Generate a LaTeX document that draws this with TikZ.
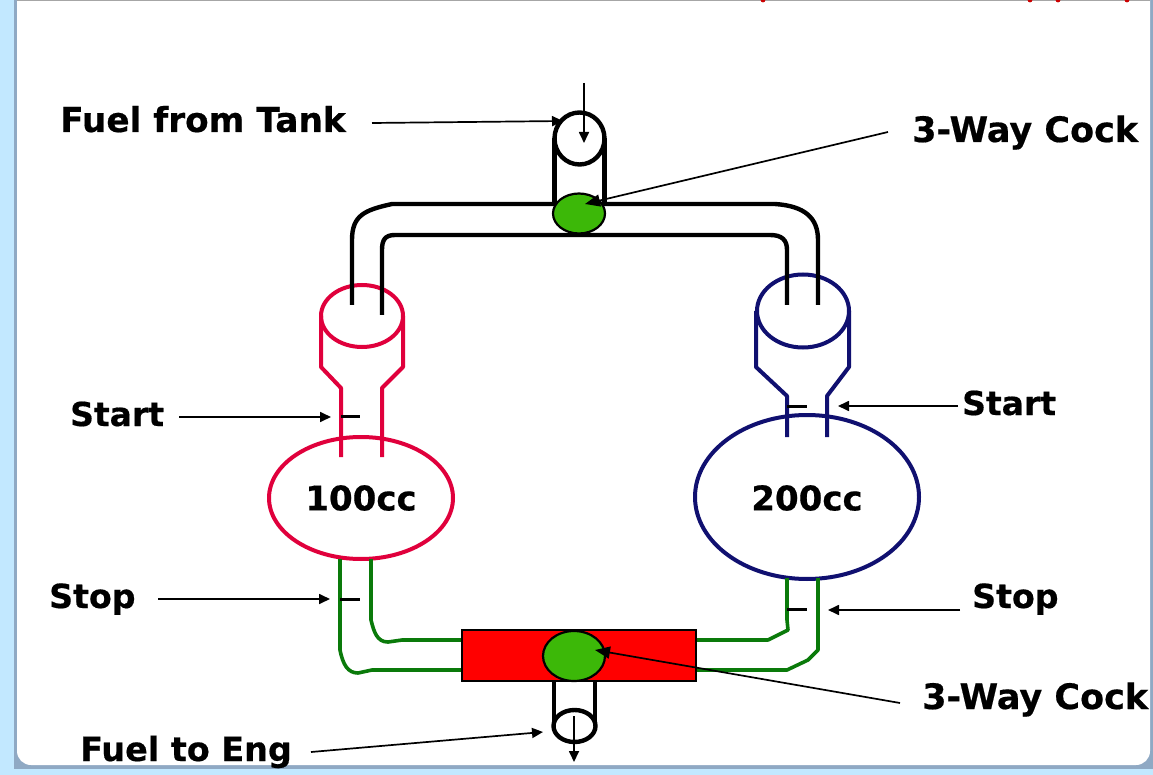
\documentclass[tikz,border=0pt]{standalone}
\usepackage{fontspec}
\setmainfont[BoldFeatures={FakeBold=0.5}]{DejaVu Sans}
\usetikzlibrary{shapes.geometric,arrows.meta}
\definecolor{panelblue}{HTML}{C2E8FF}
\definecolor{shadowblue}{HTML}{8FA9C4}
\definecolor{pipered}{HTML}{E0003C}
\definecolor{pipenavy}{HTML}{101070}
\definecolor{pipegreen}{HTML}{0A7A0A}
\definecolor{cockgreen}{HTML}{3CB808}
\tikzset{
  lbl/.style={anchor=base west,inner sep=0pt,font=\fontsize{#1}{36}\selectfont\bfseries},
  midlbl/.style={anchor=center,inner sep=0pt,font=\fontsize{34}{36}\selectfont\bfseries},
  vessel/.style={ellipse,draw,line width=4pt,inner sep=0pt,minimum width=#1},
  blackcap/.style={ellipse,draw=black,line width=4.4pt,inner sep=0pt},
  pipe/.style={line width=4.4pt,line join=round},
  lowpipe/.style={line width=3.6pt,line join=round,pipegreen},
  ticksign/.style={line width=3pt},
  lead/.style={line width=1.7pt,-{Triangle[length=11pt,width=10pt]}},
  leadbig/.style={line width=1.7pt,-{Triangle[length=15pt,width=12pt]}},
  cock/.style={ellipse,draw=black,line width=2.2pt,fill=cockgreen,inner sep=0pt},
  valvebox/.style={draw=black,line width=1.6pt,fill=red,inner sep=0pt}
}
\begin{document}
\begin{tikzpicture}[x=1pt,y=-1pt]
\useasboundingbox (0,0) rectangle (1153,775);
% slide background
\fill[panelblue] (0,0) rectangle (1153,775);
\fill[shadowblue] (14,0) rectangle (1153,769);
\fill[white,rounded corners=14pt] (17,-30) rectangle (1150,765);
\fill[gray!70] (17,0) rectangle (1150,1.3);
\foreach \px in {763,1030,1058,1127}{\fill[red!80!black] (\px,0) circle (2.4pt);}

% --- top black assembly ---
\node[blackcap,minimum width=50pt,minimum height=52pt] (topcap) at (579.5,138.5) {};
\coordinate (tl) at (554.5,138); \coordinate (tr) at (604.5,138);
\coordinate (tlb) at (554.5,205); \coordinate (trb) at (604.5,205);
\draw[pipe] (tl) -- (tlb); \draw[pipe] (tr) -- (trb);

% funnels
\node[vessel=82pt,draw=pipered,minimum height=62pt] (redcap) at (362,316) {};
\node[vessel=92pt,draw=pipenavy,minimum height=73pt] (bluecap) at (803,311) {};
\node[vessel=184pt,draw=pipered,minimum height=122pt] (v100) at (361,498) {};
\node[vessel=224pt,draw=pipenavy,minimum height=164pt] (v200) at (807,497) {};

\coordinate (rl0) at (321,316); \coordinate (rr0) at (403,316);
\coordinate (rl3) at (341,457); \coordinate (rr3) at (382,457);
\draw[pipe,line width=4pt,pipered] (rl0) -- (321,367) -- (341,388) -- (rl3);
\draw[pipe,line width=4pt,pipered] (rr0) -- (403,367) -- (382,388) -- (rr3);
\coordinate (bl0) at (756,311); \coordinate (br0) at (849,311);
\coordinate (bl3) at (787,437); \coordinate (br3) at (827,437);
\draw[pipe,line width=4pt,pipenavy] (bl0) -- (756,367) -- (787,396) -- (bl3);
\draw[pipe,line width=4pt,pipenavy] (br0) -- (849,367) -- (827,396) -- (br3);

% black manifold
\coordinate (mo1) at (352,305); \coordinate (mo2) at (818,305);
\coordinate (mi1) at (382,315); \coordinate (mi2) at (787,305);
\draw[pipe] (mo1) -- (352,240) .. controls (352,215) and (365,210) .. (392,204) -- (775,204) .. controls (805,206) and (818,218) .. (818,240) -- (mo2);
\draw[pipe] (mi1) -- (382,250) .. controls (382,240) and (385,235) .. (395,235) -- (770,235) .. controls (782,235) and (787,240) .. (787,250) -- (mi2);
\node[cock,minimum width=52pt,minimum height=40pt] (cocktop) at (579,213.5) {};

% green lower pipes
\coordinate (gl1) at (340,559); \coordinate (gl2) at (371,559);
\coordinate (gr1) at (787,578); \coordinate (gr2) at (818,578);
\coordinate (vw1) at (464,670); \coordinate (vw2) at (464,640);
\coordinate (ve1) at (694,640); \coordinate (ve2) at (694,670);
\draw[lowpipe] (gl1) -- (340,650) .. controls (343,665) and (348,673) .. (358,673) -- (372,670) -- (vw1);
\draw[lowpipe] (gl2) -- (371,620) .. controls (374,632) and (377,642) .. (388,642) -- (402,640) -- (vw2);
\draw[lowpipe] (gr1) -- (787,620) -- (788,630) -- (768,640) -- (ve1);
\draw[lowpipe] (gr2) -- (818,650) -- (808,660) -- (787,670) -- (ve2);
\node[valvebox,minimum width=234pt,minimum height=51pt] (valve) at (579,655.5) {};
\node[cock,minimum width=62pt,minimum height=50pt] (cockbot) at (574,656) {};

% bottom outlet
\coordinate (ol) at (554,681); \coordinate (or) at (595,681);
\node[blackcap,minimum width=42pt,minimum height=32pt] (outcap) at (574.5,726) {};
\draw[pipe] (ol) -- (554,726); \draw[pipe] (or) -- (595,726);

% ticks
\coordinate (t1) at (341,416); \coordinate (t1e) at (360,416);
\coordinate (t2) at (787,406); \coordinate (t2e) at (807,406);
\coordinate (t3) at (340,599); \coordinate (t3e) at (360,599);
\coordinate (t4) at (787,609); \coordinate (t4e) at (807,609);
\draw[ticksign] (t1) -- (t1e); \draw[ticksign] (t2) -- (t2e); \draw[ticksign] (t3) -- (t3e); \draw[ticksign] (t4) -- (t4e);

% labels
\node[lbl=34.3] (lfuel) at (60,132) {Fuel from Tank};
\node[lbl=35] (lcock1) at (912,142) {3-Way Cock};
\node[lbl=33] (lstart1) at (70,426) {Start};
\node[lbl=33] (lstart2) at (962,415) {Start};
\node[midlbl] (l100) at (361,498) {100cc};
\node[midlbl] (l200) at (807,498) {200cc};
\node[lbl=33.2] (lstop1) at (49,608) {Stop};
\node[lbl=33.2] (lstop2) at (972,608) {Stop};
\node[lbl=35] (lcock2) at (922,709) {3-Way Cock};
\node[lbl=33.4] (leng) at (80,761) {Fuel to Eng};

% leaders
\coordinate (a1s) at (372,123); \coordinate (a1e) at (563,121);
\coordinate (a2s) at (584,83); \coordinate (a2e) at (584,143);
\coordinate (a3s) at (888,132); \coordinate (a3e) at (585,204);
\coordinate (a4s) at (179,417); \coordinate (a4e) at (331,417);
\coordinate (a5s) at (958,406); \coordinate (a5e) at (838,406);
\coordinate (a6s) at (158,599); \coordinate (a6e) at (330,599);
\coordinate (a7s) at (960,610); \coordinate (a7e) at (828,610);
\coordinate (a8s) at (900,703); \coordinate (a8e) at (595,650);
\coordinate (a9s) at (311,752); \coordinate (a9e) at (543,732);
\coordinate (a10s) at (574,716); \coordinate (a10e) at (574,762);
\foreach \n in {1,2,4,5,6,7,9,10}{\draw[lead] (a\n s) -- (a\n e);}
\draw[leadbig] (a3s) -- (a3e);
\draw[leadbig] (a8s) -- (a8e);
\end{tikzpicture}
\end{document}
